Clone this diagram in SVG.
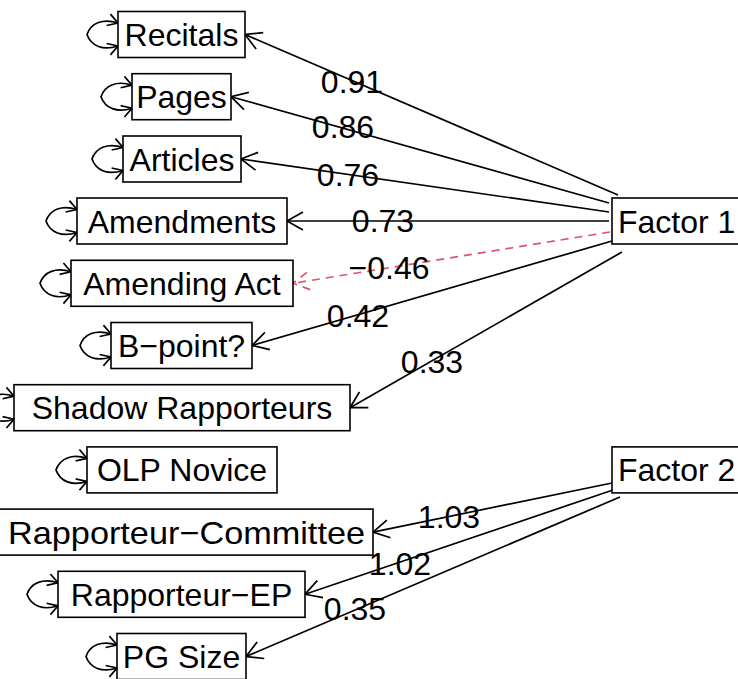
<svg xmlns="http://www.w3.org/2000/svg" width="738" height="679" viewBox="0 0 738 679">
<style>
.box{fill:#fff;stroke:#000;stroke-width:1.6}
.t{font-family:"Liberation Sans",Arial,sans-serif;font-size:32px;fill:#000;text-anchor:middle}
.ts{font-family:"Liberation Sans",Arial,sans-serif;font-size:32px;fill:#000;text-anchor:start}
.e{fill:none;stroke:#000;stroke-width:1.7}
.neg{fill:none;stroke:#DF536B;stroke-width:1.7;stroke-dasharray:8,6}
.loop{fill:none;stroke:#000;stroke-width:1.7}
.lab{font-family:"Liberation Sans",Arial,sans-serif;font-size:32px;fill:#000;text-anchor:middle}
</style>
<defs>
<marker id="arr" markerUnits="userSpaceOnUse" markerWidth="40" markerHeight="40" viewBox="-20 -20 40 40" refX="0" refY="0" orient="auto">
<path d="M-16,-9 L0,0 L-16,9" fill="none" stroke="#000" stroke-width="1.7"/>
</marker>
<marker id="arrR" markerUnits="userSpaceOnUse" markerWidth="40" markerHeight="40" viewBox="-20 -20 40 40" refX="0" refY="0" orient="auto">
<path d="M-16,-9 L0,0 L-16,9" fill="none" stroke="#DF536B" stroke-width="1.7" stroke-dasharray="8,6"/>
</marker>
<marker id="la" markerUnits="userSpaceOnUse" markerWidth="30" markerHeight="30" viewBox="-15 -15 30 30" refX="0" refY="0" orient="auto-start-reverse">
<path d="M-10,-6 L0,0 L-10,6" fill="none" stroke="#000" stroke-width="1.7"/>
</marker>
</defs>

<g id="connectors">
<path class="e" d="M618,195 L245,34.5" marker-end="url(#arr)"/>
<path class="e" d="M609,203 L231,96.7" marker-end="url(#arr)"/>
<path class="e" d="M609,212 L241,159" marker-end="url(#arr)"/>
<path class="e" d="M609,221 L287,221" marker-end="url(#arr)"/>
<path class="neg" d="M610,232 L293,283.3" marker-end="url(#arrR)"/>
<path class="e" d="M612,241 L252,345.5" marker-end="url(#arr)"/>
<path class="e" d="M622,252 L350,407.7" marker-end="url(#arr)"/>
<path class="e" d="M612,483 L373,532.1" marker-end="url(#arr)"/>
<path class="e" d="M613,490 L305,594.3" marker-end="url(#arr)"/>
<path class="e" d="M620,497 L246,656.5" marker-end="url(#arr)"/>
<!-- self loops -->
<path class="loop" d="M118,23 C103,18 91,23 87,34.5 C91,46 103,51 118,46" marker-start="url(#la)" marker-end="url(#la)"/>
<path class="loop" d="M132,85.2 C117,80.2 105,85.2 101,96.7 C105,108.2 117,113.2 132,108.2" marker-start="url(#la)" marker-end="url(#la)"/>
<path class="loop" d="M123,147.5 C108,142.5 96,147.5 92,159 C96,170.5 108,175.5 123,170.5" marker-start="url(#la)" marker-end="url(#la)"/>
<path class="loop" d="M77,209.5 C62,204.5 50,209.5 46,221 C50,232.5 62,237.5 77,232.5" marker-start="url(#la)" marker-end="url(#la)"/>
<path class="loop" d="M71,271.8 C56,266.8 44,271.8 40,283.3 C44,294.8 56,299.8 71,294.8" marker-start="url(#la)" marker-end="url(#la)"/>
<path class="loop" d="M111,334 C96,329 84,334 80,345.5 C84,357 96,362 111,357" marker-start="url(#la)" marker-end="url(#la)"/>
<path class="loop" d="M14,396.2 C-1,391.2 -13,396.2 -17,407.7 C-13,419.2 -1,424.2 14,419.2" marker-start="url(#la)" marker-end="url(#la)"/>
<path class="loop" d="M87,458.4 C72,453.4 60,458.4 56,469.9 C60,481.4 72,486.4 87,481.4" marker-start="url(#la)" marker-end="url(#la)"/>
<path class="loop" d="M58,582.8 C43,577.8 31,582.8 27,594.3 C31,605.8 43,610.8 58,605.8" marker-start="url(#la)" marker-end="url(#la)"/>
<path class="loop" d="M117,645 C102,640 90,645 86,656.5 C90,668 102,673 117,668" marker-start="url(#la)" marker-end="url(#la)"/>
</g>

<g id="labels">
<text class="lab" x="352" y="93">0.91</text>
<text class="lab" x="343" y="138">0.86</text>
<text class="lab" x="348" y="186">0.76</text>
<text class="lab" x="383" y="232">0.73</text>
<text class="lab" x="389" y="279">−0.46</text>
<text class="lab" x="358" y="327">0.42</text>
<text class="lab" x="432" y="373">0.33</text>
<text class="lab" x="449" y="528">1.03</text>
<text class="lab" x="400" y="575">1.02</text>
<text class="lab" x="355" y="620">0.35</text>
</g>

<g id="recitals"><rect class="box" x="118" y="11.5" width="127" height="46"/><text class="t" x="181.5" y="46">Recitals</text></g>
<g id="pages"><rect class="box" x="132" y="73.7" width="99" height="46"/><text class="t" x="181.5" y="108.2">Pages</text></g>
<g id="articles"><rect class="box" x="123" y="136" width="118" height="46"/><text class="t" x="182" y="170.5">Articles</text></g>
<g id="amendments"><rect class="box" x="77" y="198" width="210" height="46"/><text class="t" x="182" y="232.5">Amendments</text></g>
<g id="amending-act"><rect class="box" x="71" y="260.3" width="222" height="46"/><text class="t" x="182" y="294.8">Amending Act</text></g>
<g id="b-point"><rect class="box" x="111" y="322.5" width="141" height="46"/><text class="t" x="181.5" y="357">B−point?</text></g>
<g id="shadow-rapporteurs"><rect class="box" x="14" y="384.7" width="336" height="46"/><text class="t" x="182" y="419.2">Shadow Rapporteurs</text></g>
<g id="olp-novice"><rect class="box" x="87" y="446.9" width="190" height="46"/><text class="t" x="182" y="481.4">OLP Novice</text></g>
<g id="rapporteur-committee"><rect class="box" x="-4" y="509.1" width="377" height="46"/><text class="ts" x="8" y="543.6" textLength="357" lengthAdjust="spacingAndGlyphs">Rapporteur−Committee</text></g>
<g id="rapporteur-ep"><rect class="box" x="58" y="571.3" width="247" height="46"/><text class="t" x="181.5" y="605.8">Rapporteur−EP</text></g>
<g id="pg-size"><rect class="box" x="117" y="633.5" width="129" height="46"/><text class="t" x="181.5" y="668">PG Size</text></g>
<g id="factor1"><rect class="box" x="612" y="198" width="140" height="46"/><text class="ts" x="618" y="232.5">Factor 1</text></g>
<g id="factor2"><rect class="box" x="612" y="446.9" width="140" height="46"/><text class="ts" x="618" y="481.4">Factor 2</text></g>
</svg>
